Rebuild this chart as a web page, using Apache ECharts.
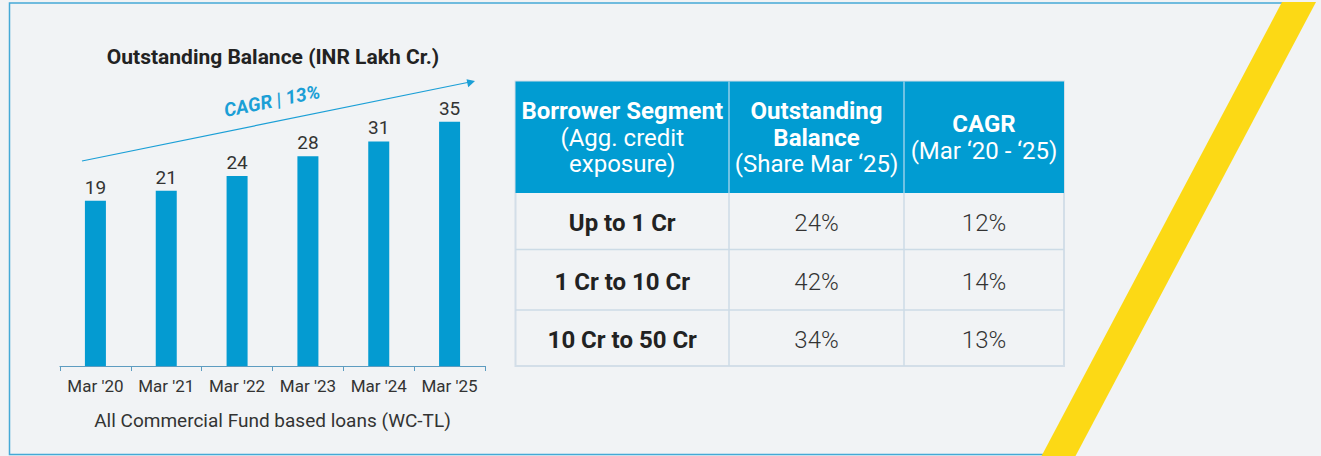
<!DOCTYPE html>
<html><head><meta charset="utf-8">
<script src="https://cdn.jsdelivr.net/npm/echarts@6/dist/echarts.min.js"></script>
<style>html,body{margin:0;padding:0;background:#f1f3f5;}#c{width:1321px;height:456px;}</style>
</head><body><div id="c"></div>
<script>
const categories = ["Mar '20", "Mar '21", "Mar '22", "Mar '23", "Mar '24", "Mar '25"];
const balance = [19, 21, 24, 28, 31, 35];
const chartTitle = 'Outstanding Balance (INR Lakh Cr.)';
const chartSubtitle = 'All Commercial Fund based loans (WC-TL)';
const cagrLabel = 'CAGR | 13%';
const headerCol1 = [['Borrower Segment', true], ['(Agg. credit', false], ['exposure)', false]];
const headerCol2 = [['Outstanding', true], ['Balance', true], ['(Share Mar \u201825)', false]];
const headerCol3 = [['CAGR', true], ['(Mar \u201820 - \u201825)', false]];
const segments = ['Up to 1 Cr', '1 Cr to 10 Cr', '10 Cr to 50 Cr'];
const shareMar25 = ['24%', '42%', '34%'];
const segmentCagr = ['12%', '14%', '13%'];

const FONT = 'Roboto, "Noto Sans", sans-serif';
const chart = echarts.init(document.getElementById('c'), null, {renderer: 'svg'});

// table layout
const colX = [515.5, 729, 904, 1064];
const headTop = 81.5, headBot = 193;
const rowY = [193, 249.5, 310, 366];
const g = [];
// frame
g.push({type: 'polyline', shape: {points: [[1283, 3], [9.5, 3], [9.5, 454.5], [1043, 454.5]]}, style: {stroke: '#45a9d6', lineWidth: 1.5, fill: null}, z: 1});
g.push({type: 'polygon', shape: {points: [[1282, 2], [1316, 2], [1075, 457], [1041, 457]]}, style: {fill: '#fcd915'}, z: 2});
// chart title
g.push({type: 'text', x: 273, y: 57, style: {text: chartTitle, font: 'bold 21px ' + FONT, fill: '#222', align: 'center', verticalAlign: 'middle'}});
// CAGR arrow
g.push({type: 'line', shape: {x1: 82, y1: 161, x2: 470, y2: 82}, style: {stroke: '#1b9fd6', lineWidth: 1.2}});
g.push({type: 'polygon', shape: {points: [[475, 81], [466.5, 79.2], [468.2, 87.2]]}, style: {fill: '#1b9fd6'}});
g.push({type: 'text', x: 272, y: 101, rotation: Math.atan2(79, 389), style: {text: cagrLabel, font: 'italic bold 19px ' + FONT, fill: '#1b9fd6', align: 'center', verticalAlign: 'middle'}});
// table header
g.push({type: 'rect', shape: {x: colX[0], y: headTop, width: colX[3] - colX[0], height: rowY[3] - headTop}, style: {fill: '#f1f3f5', stroke: '#d3dee8', lineWidth: 2}});
g.push({type: 'rect', shape: {x: colX[0], y: headTop, width: colX[3] - colX[0], height: headBot - headTop}, style: {fill: '#019cd2'}});
[colX[1], colX[2]].forEach(x => {
  g.push({type: 'line', shape: {x1: x, y1: headTop, x2: x, y2: headBot}, style: {stroke: '#b9dcee', lineWidth: 1.2}});
  g.push({type: 'line', shape: {x1: x, y1: headBot, x2: x, y2: rowY[3]}, style: {stroke: '#ccdbe6', lineWidth: 1.5}});
});
[rowY[1], rowY[2]].forEach(y => {
  g.push({type: 'line', shape: {x1: colX[0], y1: y, x2: colX[3], y2: y}, style: {stroke: '#ccdbe6', lineWidth: 1.5}});
});
function headText(lines, cx, y0) {
  lines.forEach((l, i) => {
    g.push({type: 'text', x: cx, y: y0 + i * 26.5, style: {text: l[0], font: (l[1] ? 'bold ' : '') + '24px ' + FONT, fill: '#fff', align: 'center', verticalAlign: 'middle'}});
  });
}
headText(headerCol1, (colX[0] + colX[1]) / 2, 111);
headText(headerCol2, (colX[1] + colX[2]) / 2, 111);
headText(headerCol3, (colX[2] + colX[3]) / 2, 124);
segments.forEach((s, i) => {
  const cy = (rowY[i] + rowY[i + 1]) / 2 + 2;
  g.push({type: 'text', x: (colX[0] + colX[1]) / 2, y: cy, style: {text: s, font: 'bold 24px ' + FONT, fill: '#222', align: 'center', verticalAlign: 'middle'}});
  g.push({type: 'text', x: (colX[1] + colX[2]) / 2, y: cy, style: {text: shareMar25[i], font: '300 24px ' + FONT, fill: '#333', align: 'center', verticalAlign: 'middle'}});
  g.push({type: 'text', x: (colX[2] + colX[3]) / 2, y: cy, style: {text: segmentCagr[i], font: '300 24px ' + FONT, fill: '#333', align: 'center', verticalAlign: 'middle'}});
});

chart.setOption({
  backgroundColor: '#f1f3f5',
  animation: false,
  textStyle: {fontFamily: FONT},
  grid: {left: 60, right: 836, top: 97, bottom: 90},
  xAxis: {
    type: 'category', data: categories,
    name: chartSubtitle, nameLocation: 'middle', nameGap: 45,
    nameTextStyle: {fontSize: 19, color: '#333'},
    axisLine: {onZero: false, lineStyle: {color: '#5d9cc0', width: 1.2}},
    axisTick: {show: true, length: 5, lineStyle: {color: '#5d9cc0'}},
    axisLabel: {interval: 0, fontSize: 17, color: '#333', margin: 11}
  },
  yAxis: {type: 'value', min: -14.5, max: 40, startValue: -14.5, show: false, splitLine: {show: false}},
  series: [{
    type: 'bar', data: balance, barWidth: 21,
    itemStyle: {color: '#049bd1'},
    label: {show: true, position: 'top', distance: 4, fontSize: 19, color: '#333'}
  }],
  graphic: g
});
</script></body></html>
